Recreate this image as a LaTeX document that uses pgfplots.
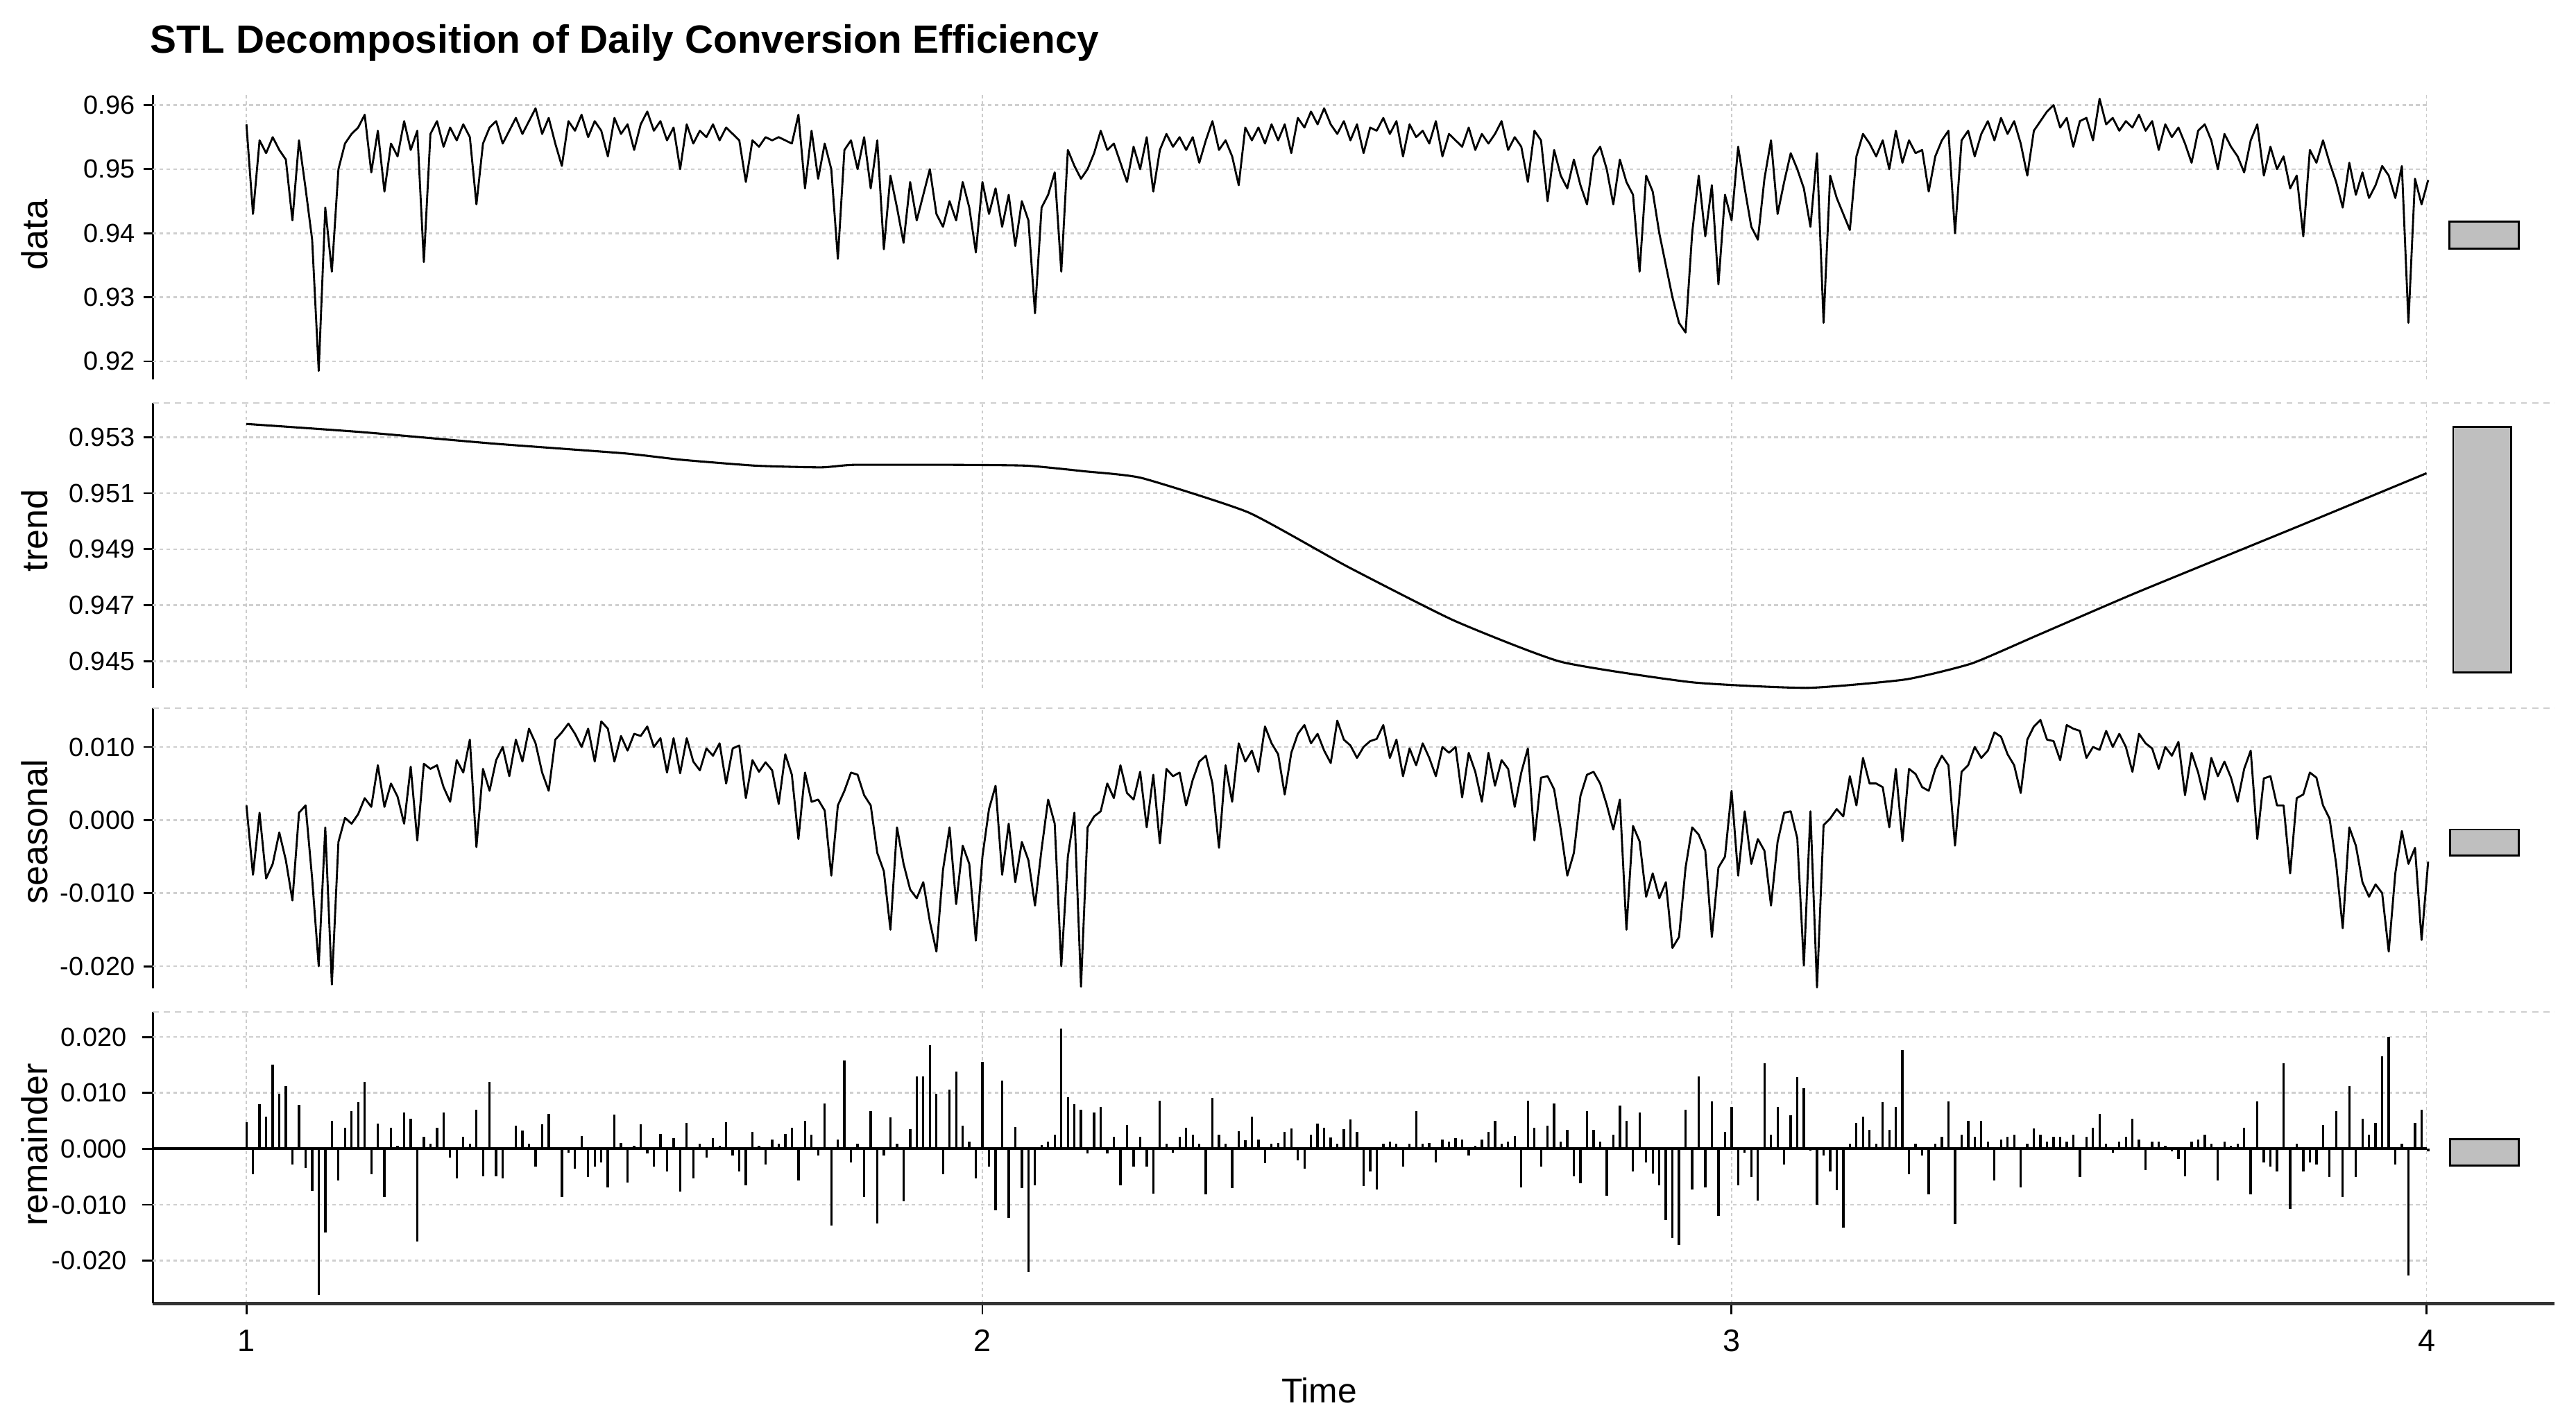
\documentclass[border=0pt]{standalone}
\usepackage{fontspec}
\setmainfont{Liberation Sans}
\usepackage{pgfplots}
\usepackage{pgfplotstable}
\pgfplotsset{compat=1.18}

\pgfplotstableread{
d s r
0.9570 0.0020 0.0048
0.9430 -0.0075 -0.0045
0.9545 0.0010 0.0080
0.9525 -0.0080 0.0058
0.9550 -0.0060 0.0150
0.9530 -0.0017 0.0098
0.9515 -0.0055 0.0112
0.9420 -0.0110 -0.0028
0.9545 0.0010 0.0078
0.9470 0.0020 -0.0034
0.9390 -0.0080 -0.0075
0.9185 -0.0200 -0.0261
0.9440 -0.0010 -0.0150
0.9340 -0.0225 0.0050
0.9500 -0.0030 -0.0057
0.9540 0.0003 0.0038
0.9555 -0.0005 0.0068
0.9565 0.0008 0.0083
0.9585 0.0030 0.0120
0.9495 0.0018 -0.0045
0.9560 0.0075 0.0045
0.9465 0.0018 -0.0086
0.9540 0.0050 0.0038
0.9520 0.0032 0.0005
0.9575 -0.0005 0.0065
0.9530 0.0073 0.0054
0.9560 -0.0028 -0.0166
0.9355 0.0077 0.0021
0.9555 0.0070 0.0009
0.9575 0.0075 0.0038
0.9535 0.0045 0.0065
0.9565 0.0025 -0.0016
0.9545 0.0082 -0.0053
0.9570 0.0065 0.0021
0.9550 0.0110 0.0009
0.9445 -0.0037 0.0070
0.9540 0.0070 -0.0049
0.9565 0.0040 0.0119
0.9575 0.0082 -0.0049
0.9540 0.0100 -0.0053
0.9560 0.0060 0.0001
0.9580 0.0110 0.0041
0.9555 0.0080 0.0033
0.9575 0.0125 0.0009
0.9595 0.0105 -0.0032
0.9555 0.0065 0.0044
0.9580 0.0040 0.0063
0.9540 0.0110 0.0001
0.9505 0.0120 -0.0086
0.9575 0.0132 -0.0007
0.9560 0.0118 -0.0036
0.9585 0.0100 0.0023
0.9550 0.0125 -0.0051
0.9575 0.0080 -0.0032
0.9560 0.0135 -0.0024
0.9520 0.0125 -0.0069
0.9580 0.0080 0.0061
0.9555 0.0115 0.0010
0.9570 0.0095 -0.0060
0.9530 0.0118 0.0005
0.9570 0.0115 0.0044
0.9590 0.0128 -0.0008
0.9560 0.0100 -0.0032
0.9575 0.0112 0.0027
0.9545 0.0065 -0.0040
0.9565 0.0112 0.0019
0.9500 0.0064 -0.0077
0.9570 0.0112 0.0046
0.9540 0.0080 -0.0053
0.9560 0.0068 0.0009
0.9550 0.0098 -0.0016
0.9570 0.0088 0.0019
0.9545 0.0105 0.0005
0.9565 0.0050 0.0048
0.9555 0.0098 -0.0012
0.9545 0.0102 -0.0040
0.9480 0.0030 -0.0065
0.9545 0.0082 0.0030
0.9535 0.0066 0.0005
0.9550 0.0079 -0.0028
0.9545 0.0068 0.0017
0.9550 0.0022 0.0009
0.9545 0.0090 0.0027
0.9540 0.0062 0.0038
0.9585 -0.0026 -0.0057
0.9470 0.0065 0.0050
0.9560 0.0025 0.0025
0.9485 0.0028 -0.0012
0.9540 0.0013 0.0081
0.9500 -0.0076 -0.0137
0.9360 0.0020 0.0017
0.9530 0.0040 0.0158
0.9545 0.0065 -0.0024
0.9500 0.0062 0.0009
0.9550 0.0034 -0.0086
0.9470 0.0020 0.0068
0.9545 -0.0045 -0.0133
0.9375 -0.0070 -0.0012
0.9490 -0.0150 0.0056
0.9440 -0.0010 0.0009
0.9385 -0.0060 -0.0094
0.9480 -0.0095 0.0035
0.9420 -0.0107 0.0130
0.9460 -0.0085 0.0130
0.9500 -0.0139 0.0185
0.9430 -0.0180 0.0098
0.9410 -0.0068 -0.0045
0.9450 -0.0010 0.0106
0.9420 -0.0115 0.0138
0.9480 -0.0035 0.0042
0.9440 -0.0060 0.0013
0.9370 -0.0165 -0.0053
0.9480 -0.0050 0.0155
0.9430 0.0015 -0.0032
0.9470 0.0047 -0.0110
0.9410 -0.0075 0.0122
0.9460 -0.0005 -0.0123
0.9380 -0.0085 0.0039
0.9450 -0.0030 -0.0070
0.9420 -0.0055 -0.0220
0.9275 -0.0117 -0.0065
0.9440 -0.0040 0.0007
0.9460 0.0028 0.0013
0.9495 -0.0005 0.0025
0.9340 -0.0200 0.0215
0.9530 -0.0050 0.0092
0.9505 0.0010 0.0080
0.9485 -0.0228 0.0070
0.9500 -0.0010 -0.0008
0.9525 0.0005 0.0065
0.9560 0.0012 0.0075
0.9530 0.0050 -0.0008
0.9540 0.0030 0.0021
0.9510 0.0075 -0.0065
0.9480 0.0037 0.0043
0.9535 0.0028 -0.0032
0.9500 0.0066 0.0021
0.9550 -0.0010 -0.0032
0.9465 0.0062 -0.0080
0.9530 -0.0032 0.0086
0.9555 0.0070 0.0009
0.9535 0.0060 -0.0007
0.9550 0.0065 0.0021
0.9530 0.0020 0.0038
0.9550 0.0055 0.0025
0.9510 0.0080 0.0009
0.9545 0.0088 -0.0081
0.9575 0.0050 0.0091
0.9530 -0.0038 0.0025
0.9545 0.0075 0.0009
0.9520 0.0025 -0.0070
0.9475 0.0105 0.0032
0.9565 0.0080 0.0015
0.9545 0.0095 0.0058
0.9565 0.0066 0.0017
0.9540 0.0128 -0.0025
0.9570 0.0105 0.0009
0.9545 0.0090 0.0011
0.9570 0.0035 0.0030
0.9525 0.0092 0.0037
0.9580 0.0118 -0.0020
0.9565 0.0130 -0.0036
0.9590 0.0105 0.0025
0.9570 0.0118 0.0045
0.9595 0.0095 0.0038
0.9570 0.0078 0.0020
0.9555 0.0136 0.0009
0.9575 0.0110 0.0035
0.9545 0.0102 0.0052
0.9570 0.0085 0.0030
0.9525 0.0100 -0.0067
0.9565 0.0108 -0.0040
0.9560 0.0111 -0.0073
0.9580 0.0130 0.0009
0.9555 0.0085 0.0013
0.9575 0.0110 0.0009
0.9520 0.0060 -0.0032
0.9570 0.0098 0.0009
0.9550 0.0075 0.0067
0.9560 0.0105 0.0009
0.9540 0.0085 0.0011
0.9575 0.0060 -0.0024
0.9520 0.0100 0.0017
0.9555 0.0092 0.0013
0.9545 0.0100 0.0019
0.9535 0.0031 0.0017
0.9565 0.0092 -0.0012
0.9530 0.0066 0.0005
0.9555 0.0025 0.0017
0.9540 0.0092 0.0030
0.9555 0.0047 0.0050
0.9575 0.0082 0.0009
0.9530 0.0070 0.0013
0.9550 0.0018 0.0023
0.9535 0.0065 -0.0069
0.9480 0.0098 0.0086
0.9560 -0.0028 0.0038
0.9545 0.0058 -0.0032
0.9450 0.0060 0.0042
0.9530 0.0042 0.0081
0.9490 -0.0013 0.0013
0.9470 -0.0076 0.0034
0.9515 -0.0045 -0.0049
0.9475 0.0033 -0.0061
0.9445 0.0062 0.0067
0.9520 0.0066 0.0034
0.9535 0.0050 0.0013
0.9500 0.0021 -0.0084
0.9445 -0.0013 0.0025
0.9515 0.0028 0.0077
0.9480 -0.0150 0.0050
0.9460 -0.0008 -0.0040
0.9340 -0.0029 0.0065
0.9490 -0.0105 -0.0024
0.9465 -0.0073 -0.0044
0.9400 -0.0107 -0.0065
0.9350 -0.0085 -0.0127
0.9300 -0.0175 -0.0160
0.9260 -0.0160 -0.0172
0.9245 -0.0065 0.0070
0.9400 -0.0010 -0.0073
0.9490 -0.0020 0.0130
0.9395 -0.0042 -0.0069
0.9475 -0.0160 0.0085
0.9320 -0.0065 -0.0120
0.9460 -0.0050 0.0030
0.9420 0.0040 0.0075
0.9535 -0.0076 -0.0065
0.9470 0.0012 -0.0007
0.9410 -0.0060 -0.0050
0.9390 -0.0026 -0.0092
0.9485 -0.0042 0.0153
0.9545 -0.0117 0.0025
0.9430 -0.0030 0.0075
0.9480 0.0010 -0.0028
0.9525 0.0012 0.0060
0.9500 -0.0025 0.0128
0.9470 -0.0199 0.0108
0.9410 0.0012 -0.0003
0.9525 -0.0229 -0.0100
0.9260 -0.0007 -0.0012
0.9490 0.0002 -0.0040
0.9455 0.0015 -0.0074
0.9430 0.0005 -0.0141
0.9405 0.0060 0.0009
0.9520 0.0020 0.0046
0.9555 0.0085 0.0058
0.9540 0.0050 0.0034
0.9520 0.0050 0.0009
0.9545 0.0045 0.0083
0.9500 -0.0010 0.0034
0.9560 0.0070 0.0075
0.9510 -0.0029 0.0176
0.9545 0.0070 -0.0045
0.9525 0.0063 0.0009
0.9530 0.0045 -0.0012
0.9465 0.0040 -0.0082
0.9520 0.0070 0.0009
0.9545 0.0088 0.0021
0.9560 0.0075 0.0085
0.9400 -0.0035 -0.0135
0.9545 0.0066 0.0025
0.9560 0.0075 0.0050
0.9520 0.0100 0.0021
0.9555 0.0085 0.0050
0.9575 0.0095 0.0013
0.9545 0.0120 -0.0057
0.9580 0.0114 0.0017
0.9555 0.0090 0.0021
0.9575 0.0075 0.0025
0.9540 0.0037 -0.0069
0.9490 0.0110 0.0009
0.9560 0.0128 0.0036
0.9575 0.0137 0.0025
0.9590 0.0110 0.0013
0.9600 0.0108 0.0021
0.9565 0.0082 0.0021
0.9580 0.0130 0.0013
0.9535 0.0125 0.0025
0.9575 0.0122 -0.0050
0.9580 0.0085 0.0021
0.9545 0.0100 0.0038
0.9610 0.0096 0.0063
0.9570 0.0122 0.0009
0.9580 0.0100 -0.0007
0.9560 0.0118 0.0013
0.9575 0.0100 0.0021
0.9565 0.0066 0.0054
0.9585 0.0118 0.0017
0.9560 0.0105 -0.0038
0.9575 0.0098 0.0013
0.9530 0.0070 0.0013
0.9570 0.0100 0.0005
0.9550 0.0088 -0.0005
0.9565 0.0107 -0.0018
0.9540 0.0034 -0.0049
0.9510 0.0092 0.0013
0.9560 0.0065 0.0017
0.9570 0.0028 0.0025
0.9545 0.0085 0.0009
0.9500 0.0060 -0.0057
0.9555 0.0080 0.0013
0.9535 0.0058 0.0005
0.9520 0.0025 0.0009
0.9495 0.0070 0.0038
0.9545 0.0095 -0.0082
0.9570 -0.0026 0.0085
0.9490 0.0057 -0.0024
0.9535 0.0060 -0.0032
0.9500 0.0020 -0.0040
0.9520 0.0020 0.0153
0.9470 -0.0073 -0.0108
0.9490 0.0030 0.0009
0.9395 0.0035 -0.0040
0.9530 0.0065 -0.0024
0.9510 0.0058 -0.0028
0.9545 0.0020 0.0043
0.9510 0.0002 -0.0050
0.9480 -0.0060 0.0067
0.9440 -0.0148 -0.0086
0.9510 -0.0010 0.0112
0.9460 -0.0035 -0.0050
0.9495 -0.0085 0.0054
0.9455 -0.0105 0.0025
0.9475 -0.0088 0.0046
0.9505 -0.0100 0.0166
0.9490 -0.0180 0.0200
0.9455 -0.0073 -0.0028
0.9505 -0.0015 0.0009
0.9260 -0.0060 -0.0226
0.9485 -0.0038 0.0046
0.9445 -0.0164 0.0070
0.9483 -0.0057 -0.0005
}\stl

\tikzset{
  hgrid/.style={dash pattern=on 1.1pt off 1pt, line width=0.55pt, black!19},
  sep/.style={dash pattern=on 1.8pt off 1.6pt, line width=0.4pt, black!19},
  rbar/.style={fill=black!25, draw=black, line width=0.6pt},
}
\pgfplotsset{
  stlpanel/.style={
    scale only axis, width=731pt, anchor=south west,
    xmin=0.87114, xmax=4.17637,
    clip=false,
    scaled y ticks=false, scaled x ticks=false,
    axis y line*=left, axis x line*=bottom,
    axis line style={-},
    y axis line style={-, line width=0.6pt, black},
    xtick={1,2.0128,3.0437,4},
    xmajorgrids=true, ymajorgrids=false,
    major x grid style={dash pattern=on 1pt off 0.9pt, line width=0.35pt, black!20},
    tick align=outside,
    major tick length=2.8pt,
    ytick style={line width=0.6pt, black},
    yticklabel style={font=\fontsize{8}{9.6}\selectfont, inner sep=0pt, xshift=-2.5pt},
  },
  upperpanel/.style={
    x axis line style={draw=none},
    xtick style={draw=none},
    xticklabels={},
  },
}

\begin{document}
\begin{tikzpicture}[x=1pt,y=1pt]
\useasboundingbox (0,0) rectangle (784,434);

% ---------- data ----------
\begin{axis}[stlpanel, upperpanel,
  at={(46.5pt,318.5pt)}, height=86.5pt,
  ymin=0.91718, ymax=0.96154,
  ytick={0.92,0.93,0.94,0.95,0.96},
  yticklabels={0.92,0.93,0.94,0.95,0.96}]
\draw[hgrid] (axis cs:0.87114,0.92) -- (axis cs:4,0.92);
\draw[hgrid] (axis cs:0.87114,0.93) -- (axis cs:4,0.93);
\draw[hgrid] (axis cs:0.87114,0.94) -- (axis cs:4,0.94);
\draw[hgrid] (axis cs:0.87114,0.95) -- (axis cs:4,0.95);
\draw[hgrid] (axis cs:0.87114,0.96) -- (axis cs:4,0.96);
\addplot[black, line width=0.6pt, line join=round, no markers]
  table[x expr={1+\coordindex*0.0090430}, y=d] {\stl};
\addplot[rbar] coordinates {(4.0317,0.93762) (4.1266,0.93762) (4.1266,0.94177) (4.0317,0.94177)} -- cycle;
\end{axis}

% ---------- trend ----------
\begin{axis}[stlpanel, upperpanel,
  at={(46.5pt,224.5pt)}, height=86.75pt,
  ymin=0.94404, ymax=0.95421,
  ytick={0.945,0.947,0.949,0.951,0.953},
  yticklabels={0.945,0.947,0.949,0.951,0.953}]
\draw[sep] (rel axis cs:0,1) -- (rel axis cs:1,1);
\draw[hgrid] (axis cs:0.87114,0.945) -- (axis cs:4,0.945);
\draw[hgrid] (axis cs:0.87114,0.947) -- (axis cs:4,0.947);
\draw[hgrid] (axis cs:0.87114,0.949) -- (axis cs:4,0.949);
\draw[hgrid] (axis cs:0.87114,0.951) -- (axis cs:4,0.951);
\draw[hgrid] (axis cs:0.87114,0.953) -- (axis cs:4,0.953);
\addplot[black, line width=0.65pt, smooth, tension=0.3, no markers] coordinates {
(1.000,0.95347) (1.158,0.95318) (1.339,0.95277) (1.520,0.95242) (1.599,0.95219)
(1.701,0.95198) (1.791,0.95192) (1.836,0.95201) (1.972,0.95201) (2.074,0.95198)
(2.153,0.95178) (2.232,0.95154) (2.379,0.95031) (2.515,0.94838) (2.662,0.94645)
(2.809,0.94498) (2.989,0.94425) (3.148,0.94405) (3.283,0.94435) (3.374,0.94492)
(3.464,0.94592) (3.600,0.94744) (3.826,0.94984) (4.000,0.95171)};
\addplot[rbar] coordinates {(4.0368,0.94460) (4.1162,0.94460) (4.1162,0.95337) (4.0368,0.95337)} -- cycle;
\end{axis}

% ---------- seasonal ----------
\begin{axis}[stlpanel, upperpanel,
  at={(46.5pt,133.15pt)}, height=85.35pt,
  ymin=-0.02301, ymax=0.01535,
  ytick={-0.02,-0.01,0,0.01},
  yticklabels={-0.020,-0.010,0.000,0.010}]
\draw[sep] (rel axis cs:0,1) -- (rel axis cs:1,1);
\draw[hgrid] (axis cs:0.87114,-0.02) -- (axis cs:4,-0.02);
\draw[hgrid] (axis cs:0.87114,-0.01) -- (axis cs:4,-0.01);
\draw[hgrid] (axis cs:0.87114,0) -- (axis cs:4,0);
\draw[hgrid] (axis cs:0.87114,0.01) -- (axis cs:4,0.01);
\addplot[black, line width=0.6pt, line join=round, no markers]
  table[x expr={1+\coordindex*0.0090430}, y=s] {\stl};
\addplot[rbar] coordinates {(4.0326,-0.00488) (4.1266,-0.00488) (4.1266,-0.00130) (4.0326,-0.00130)} -- cycle;
\end{axis}

% ---------- remainder ----------
\begin{axis}[stlpanel,
  at={(46.5pt,37.15pt)}, height=88.85pt,
  ymin=-0.02767, ymax=0.02452,
  ytick={-0.02,-0.01,0,0.01,0.02},
  yticklabels={-0.020,-0.010,0.000,0.010,0.020},
  xticklabels={1,2,3,4},
  x axis line style={-, line width=0.9pt, black!80},
  xtick style={line width=0.6pt, black},
  major tick length=3.2pt,
  xticklabel style={font=\fontsize{9.5}{11}\selectfont, inner sep=0pt, yshift=-4.6pt},
  yticklabel style={font=\fontsize{8}{9.6}\selectfont, inner sep=0pt, xshift=-2.1pt}]
\draw[sep] (rel axis cs:0,1) -- (rel axis cs:1,1);
\draw[hgrid] (axis cs:0.87114,-0.02) -- (axis cs:4,-0.02);
\draw[hgrid] (axis cs:0.87114,-0.01) -- (axis cs:4,-0.01);
\draw[hgrid] (axis cs:0.87114,0.01) -- (axis cs:4,0.01);
\draw[hgrid] (axis cs:0.87114,0.02) -- (axis cs:4,0.02);
\addplot[ycomb, black, line width=0.7pt, no markers]
  table[x expr={1+\coordindex*0.0090430}, y=r] {\stl};
\draw[line width=0.8pt, black] (axis cs:0.87114,0) -- (axis cs:4,0);
\addplot[rbar] coordinates {(4.0326,-0.00302) (4.1266,-0.00302) (4.1266,0.00167) (4.0326,0.00167)} -- cycle;
\end{axis}

% ---------- texts ----------
\node[anchor=base west, inner sep=0pt, font=\bfseries\fontsize{12}{14}\selectfont]
  at (45.6,417.75) {STL Decomposition of Daily Conversion Efficiency};
\node[rotate=90, anchor=center, inner sep=0pt, font=\fontsize{11}{13}\selectfont] at (10.5,362.5) {data};
\node[rotate=90, anchor=center, inner sep=0pt, font=\fontsize{11}{13}\selectfont] at (10.5,272.5) {trend};
\node[rotate=90, anchor=center, inner sep=0pt, font=\fontsize{11}{13}\selectfont] at (10.5,180.7) {seasonal};
\node[rotate=90, anchor=center, inner sep=0pt, font=\fontsize{11}{13}\selectfont] at (10.5,85.5) {remainder};
\node[anchor=base, inner sep=0pt, font=\fontsize{10.5}{12}\selectfont] at (401.5,7) {Time};
\end{tikzpicture}
\end{document}
